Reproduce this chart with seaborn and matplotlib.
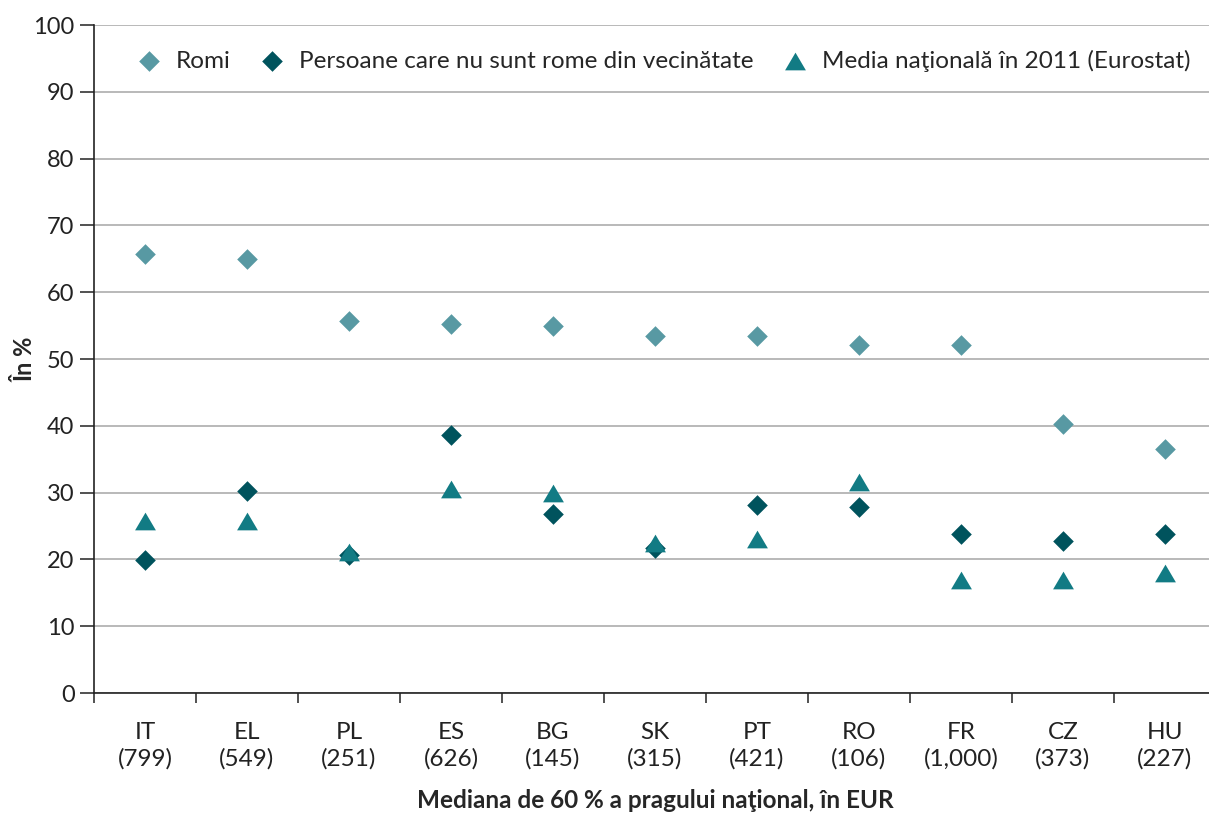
import pandas as pd
import matplotlib.pyplot as plt
import seaborn as sns
import numpy as np

countries = ['IT', 'EL', 'PL', 'ES', 'BG', 'SK', 'PT', 'RO', 'FR', 'CZ', 'HU']
thresholds = ['799', '549', '251', '626', '145', '315', '421', '106', '1,000', '373', '227']

romi = [65.7, 65.0, 55.7, 55.3, 54.9, 53.5, 53.5, 52.1, 52.1, 40.2, 36.6]
non_roma = [19.9, 30.3, 20.6, 38.6, 26.8, 21.7, 28.1, 27.8, 23.8, 22.8, 23.8]
national = [25.8, 25.8, 21.1, 30.6, 29.9, 22.5, 23.0, 31.6, 16.9, 16.9, 17.9]

series_names = ['Romi', 'Persoane care nu sunt rome din vecinătate',
                'Media naţională în 2011 (Eurostat)']
colors = ['#5899a3', '#00535d', '#127b84']

tri = [(-1.0, -0.85), (1.0, -0.85), (0.0, 0.85)]
marker_list = ['D', 'D', tri]
size_list = [108, 108, 240]

labels = [f'{c}\n({t})' for c, t in zip(countries, thresholds)]

sns.set_theme(style='white')
plt.rcParams['font.family'] = ['Lato', 'DejaVu Sans']

fig = plt.figure(figsize=(12.09, 8.14), dpi=100)
ax = fig.add_axes([94 / 1209, 1 - 693 / 814, (1216 - 94) / 1209, (693 - 25) / 814])

ax.set_axisbelow(True)
ax.yaxis.grid(True, color='#a6a6a6', linewidth=1.1)

# one call per series so each can have its own marker and size
for name, vals, col, mk, sz in zip(series_names, [romi, non_roma, national],
                                   colors, marker_list, size_list):
    d = pd.DataFrame({'country': labels, 'value': vals})
    sns.scatterplot(data=d, x='country', y='value', color=col, marker=mk, s=sz,
                    linewidth=0, alpha=1, label=name, ax=ax, zorder=3)

ax.set_xlim(-0.5, len(countries) - 0.5)
ax.set_ylim(0, 100)
ax.set_yticks(np.arange(0, 101, 10))
ax.set_xticks(range(len(labels)))
ax.set_xticklabels(labels, fontsize=17.5, color='#222222', linespacing=1.3)
ax.set_xticks(np.arange(-0.5, len(labels), 1), minor=True)
ax.tick_params(axis='x', which='major', length=0, pad=21)
ax.tick_params(axis='x', which='minor', length=7, width=1.2, color='#333333', bottom=True)
ax.tick_params(axis='y', length=10, width=1.2, color='#333333', labelsize=17,
               labelcolor='#222222', pad=4, left=True)

for side in ['top', 'right']:
    ax.spines[side].set_visible(False)
for side in ['left', 'bottom']:
    ax.spines[side].set_color('#222222')
    ax.spines[side].set_linewidth(1.2)

ax.set_ylabel('În %', fontsize=17, fontweight='bold')
ax.yaxis.set_label_coords(-0.051, 0.5)
ax.set_xlabel('Mediana de 60 % a pragului naţional, în EUR', fontsize=17.5,
              fontweight='bold', labelpad=14)

handles, leg_labels = ax.get_legend_handles_labels()
for h, ms in zip(handles, [10.5, 10.5, 15]):
    h.set_sizes([ms ** 2])
ax.legend(handles, leg_labels, loc='upper right', bbox_to_anchor=(0.99, 0.985),
          ncol=3, frameon=False, fontsize=17.5, handlelength=1.0,
          handletextpad=0.6, columnspacing=1.2, borderaxespad=0.2)

fig.savefig('out.png', dpi=100)
